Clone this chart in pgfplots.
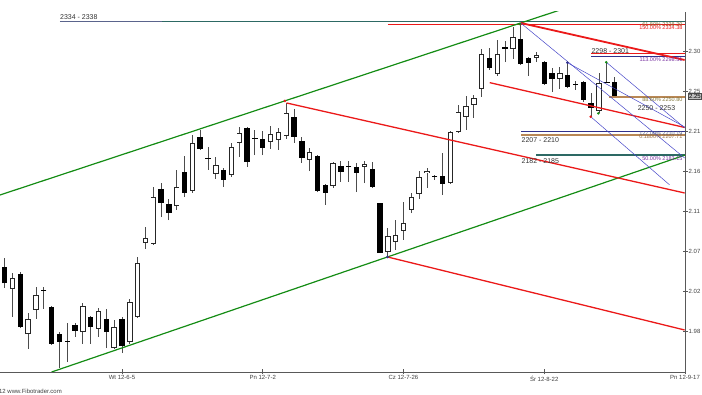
\documentclass[border=0pt]{standalone}
\usepackage{fontspec}
\setmainfont{Liberation Sans}
\usepackage{pgfplots}
\pgfplotsset{compat=1.18}
\usepackage{pgfplotstable}

\definecolor{cgreen}{RGB}{20,140,20}
\definecolor{cred}{RGB}{235,25,25}
\definecolor{cblue}{RGB}{70,70,200}
\definecolor{cteal}{RGB}{45,105,100}
\definecolor{cslate}{RGB}{90,100,140}
\definecolor{cbrown}{RGB}{185,135,85}
\definecolor{cpurple}{RGB}{120,50,160}
\definecolor{colive}{RGB}{130,120,60}

% bar index, open, high, low, close
\pgfplotstableread{
x o h l c
-1 2.0859 2.0894 2.0505 2.0539
0 2.0543 2.0642 2.0299 2.0353
2 2.0459 2.0485 1.9840 1.9853
6 2.0082 2.0093 1.9648 1.9659
7 1.9773 1.9796 1.9385 1.9682
9 1.9876 1.9899 1.9739 1.9808
11 1.9968 1.9979 1.9659 1.9853
13 1.9945 2.0059 1.9613 1.9796
15 1.9945 1.9968 1.9556 1.9636
20 2.1431 2.1499 2.1110 2.1271
21 2.1259 2.1316 2.1076 2.1156
23 2.1625 2.1808 2.1339 2.1385
25 2.2025 2.2105 2.1877 2.1888
28 2.1648 2.1671 2.1454 2.1534
31 2.2128 2.2139 2.1682 2.1739
33 2.2002 2.2094 2.1819 2.1900
37 2.2254 2.2345 2.1957 2.2025
38 2.1979 2.2025 2.1728 2.1785
40 2.1808 2.1819 2.1396 2.1408
41 2.1476 2.1488 2.1248 2.1385
43 2.1694 2.1751 2.1511 2.1625
45 2.1682 2.1728 2.1396 2.1614
47 2.1659 2.1739 2.1442 2.1454
48 2.1271 2.1271 2.0699 2.0699
56 2.1579 2.1842 2.1362 2.1488
62 2.2928 2.3042 2.2791 2.2814
64 2.3054 2.3122 2.2882 2.3031
66 2.3145 2.3328 2.2848 2.2859
67 2.2928 2.2940 2.2722 2.2871
69 2.2882 2.2894 2.2620 2.2631
70 2.2757 2.2814 2.2539 2.2688
72 2.2734 2.2871 2.2585 2.2597
74 2.2654 2.2665 2.2425 2.2448
75 2.2414 2.2528 2.2254 2.2357
78 2.2654 2.2711 2.2488 2.2494
}\blk

\pgfplotstableread{
x o h l c
1 2.0288 2.0474 1.9971 2.0413
3 1.9773 2.0013 1.9602 1.9945
4 2.0048 2.0311 1.9945 2.0219
10 1.9796 2.0128 1.9659 2.0093
12 1.9831 2.0071 1.9739 2.0036
14 1.9613 1.9934 1.9602 1.9853
16 1.9682 2.0173 1.9659 2.0139
17 1.9968 2.0654 1.9956 2.0585
18 2.0814 2.0996 2.0745 2.0871
19 2.0802 2.1454 2.0791 2.1339
22 2.1236 2.1648 2.1191 2.1454
24 2.1408 2.2048 2.1385 2.1957
27 2.1602 2.1797 2.1545 2.1705
29 2.1591 2.1957 2.1568 2.1911
30 2.1957 2.2139 2.1797 2.2071
34 2.1968 2.2151 2.1888 2.2060
35 2.1991 2.2128 2.1877 2.2082
36 2.2037 2.2414 2.2002 2.2299
39 2.1762 2.1900 2.1636 2.1854
42 2.1465 2.1739 2.1442 2.1728
46 2.1682 2.1751 2.1499 2.1716
49 2.0711 2.0985 2.0654 2.0894
50 2.0825 2.1076 2.0734 2.0905
51 2.0951 2.1282 2.0848 2.1042
52 2.1191 2.1385 2.1156 2.1339
53 2.1374 2.1636 2.1316 2.1568
54 2.1614 2.1671 2.1442 2.1636
57 2.1499 2.2094 2.1488 2.2082
58 2.2082 2.2391 2.2071 2.2311
59 2.2254 2.2494 2.2105 2.2379
60 2.2391 2.2505 2.2242 2.2471
61 2.2574 2.3031 2.2482 2.2974
63 2.2745 2.3134 2.2722 2.2974
65 2.3031 2.3282 2.2917 2.3168
68 2.2928 2.2997 2.2882 2.2962
71 2.2688 2.2825 2.2574 2.2757
76 2.2322 2.2757 2.2300 2.2642
}\wht

\pgfplotstableread{
x o h l c
5 2.0265 2.0311 2.0059 2.0270
8 1.9693 1.9899 1.9453 1.9693
26 2.1768 2.1911 2.1648 2.1779
32 2.1997 2.2105 2.1819 2.2008
44 2.1677 2.1751 2.1511 2.1688
55 2.1562 2.1591 2.1534 2.1574
73 2.2614 2.2665 2.2562 2.2625
77 2.2642 2.2882 2.2637 2.2648
}\dji

\pgfplotsset{
  candle/.style n args={2}{draw=none, mark=none, forget plot,
    error bars/.cd, y dir=plus, y explicit, error mark=none,
    error bar style={solid, line width=#1, draw=#2}},
}

\begin{document}
\begin{tikzpicture}
\path[use as bounding box] (0,0) rectangle (702pt,395pt);
\begin{axis}[
  at={(0pt,23pt)}, anchor=south west,
  scale only axis, width=685pt, height=360.3pt,
  xmin=-0.6, xmax=87, ymin=1.9339, ymax=2.3457,
  clip mode=individual,
  axis x line*=bottom, axis y line*=right,
  axis line style={draw=black!65, line width=0.8pt},
  major tick length=5pt, tick align=center,
  tick style={draw=black!65, line width=0.6pt},
  xtick={15,33,51,69,87},
  xticklabels={Wt 12-6-5, Pn 12-7-2, Cz 12-7-26, Śr 12-8-22, Pn 12-9-17},
  ytick={1.98,2.0257,2.0714,2.1171,2.1628,2.2086,2.2543,2.30},
  yticklabels={1.98,2.02,2.07,2.11,2.16,2.21,2.25,2.30},
  ticklabel style={font=\fontsize{6}{7}\selectfont, text=black!75},
  yticklabel style={anchor=west, inner sep=0pt, xshift=1pt},
  xticklabel style={inner sep=1pt},
]
% wicks
\addplot[candle={0.9pt}{black!70}] table[x=x, y=l, y error plus expr=\thisrow{h}-\thisrow{l}] {\blk};
\addplot[candle={0.9pt}{black!70}] table[x=x, y=l, y error plus expr=\thisrow{h}-\thisrow{l}] {\wht};
\addplot[candle={0.9pt}{black!70}] table[x=x, y=l, y error plus expr=\thisrow{h}-\thisrow{l}] {\dji};
% bodies
\addplot[candle={5.4pt}{black}] table[x=x, y=c, y error plus expr=\thisrow{o}-\thisrow{c}] {\blk};
\addplot[candle={5.4pt}{black!85}] table[x=x, y=o, y error plus expr=\thisrow{c}-\thisrow{o}] {\wht};
\addplot[candle={3.6pt}{white}] table[x=x, y expr=\thisrow{o}+0.0009, y error plus expr=\thisrow{c}-\thisrow{o}-0.0018] {\wht};
\addplot[only marks, mark=-, mark size=2.7pt, mark options={line width=0.9pt, draw=black}, forget plot] table[x=x, y=c] {\dji};

% horizontal Fibonacci levels
\addplot[cslate, line width=0.9pt] coordinates {(7.07,2.3343) (20.1,2.3343)};
\addplot[cteal, line width=0.9pt] coordinates {(20.1,2.3343) (86.95,2.3343)};
\addplot[cred, line width=0.7pt] coordinates {(49.0,2.3317) (86.95,2.3317)};
\addplot[cred, line width=0.6pt] coordinates {(75.03,2.2982) (86.95,2.2982)};
\addplot[cblue!70!black, line width=0.8pt] coordinates {(75.03,2.2951) (86.95,2.2951)};
\addplot[cbrown, line width=1.8pt] coordinates {(77.24,2.2486) (86.95,2.2486)};
\addplot[cblue!70!black, line width=0.7pt] coordinates {(66.08,2.2086) (86.95,2.2086)};
\addplot[cbrown, line width=1.6pt] coordinates {(66.08,2.2048) (86.95,2.2048)};
\addplot[cteal, line width=1.8pt] coordinates {(68.0,2.1823) (86.95,2.1823)};

% channels
\addplot[cgreen, line width=1.2pt] coordinates {(-0.6,2.1362) (70.97,2.3475)};
\addplot[cgreen, line width=1.2pt] coordinates {(6.007,1.9339) (86.95,2.1817)};
\addplot[cred, line width=1.3pt] coordinates {(36.04,2.2414) (86.95,2.1385)};
\addplot[cred, line width=1.8pt] coordinates {(65.99,2.3328) (86.95,2.2905)};
\addplot[cred, line width=1.3pt] coordinates {(62.03,2.2646) (86.95,2.2134)};
\addplot[cred, line width=1.3pt] coordinates {(48.95,2.0654) (86.95,1.9819)};
% thin blue lines
\addplot[cblue, line width=0.5pt] coordinates {(65.99,2.3328) (86.95,2.1785)};
\addplot[cblue, line width=0.5pt] coordinates {(71.96,2.2874) (86.95,2.2140)};
\addplot[cblue, line width=0.5pt] coordinates {(76.94,2.2879) (86.95,2.2130)};
\addplot[cblue, line width=0.5pt] coordinates {(74.94,2.2257) (85.0,2.1480)};
% dots
\addplot[only marks, mark=*, mark size=1.1pt, cblue!70!black] coordinates {(48.95,2.0654) (71.96,2.2874)};
\addplot[only marks, mark=*, mark size=1.1pt, cred] coordinates {(74.94,2.2257) (35.83,2.2437)};
\addplot[only marks, mark=*, mark size=1.1pt, cgreen] coordinates {(75.92,2.2296) (76.94,2.2879) (65.86,2.3317)};

% level texts
\begin{scope}[every node/.style={font=\fontsize{7}{8}\selectfont, text=black!80, inner sep=0pt}]
\node[anchor=west] at (axis cs:7.07,2.3397) {2334 - 2338};
\node[anchor=west] at (axis cs:75.03,2.3012) {2298 - 2301};
\node[anchor=west] at (axis cs:80.94,2.2360) {2250 - 2253};
\node[anchor=west] at (axis cs:66.08,2.1991) {2207 - 2210};
\node[anchor=west] at (axis cs:66.08,2.1751) {2182 - 2185};
\end{scope}
\begin{scope}[every node/.style={font=\fontsize{5.5}{6}\selectfont, inner sep=0pt, anchor=east}]
\node[text=colive] at (axis cs:86.69,2.3305) {61.80\% 2338.39};
\node[text=cred] at (axis cs:86.69,2.3274) {150.00\% 2334.38};
\node[text=cpurple] at (axis cs:86.69,2.2905) {113.00\% 2298.51};
\node[text=colive] at (axis cs:86.69,2.2454) {88.60\% 2250.80};
\node[text=cslate] at (axis cs:86.69,2.2067) {127.00\% 2210.19};
\node[text=cbrown!80!black] at (axis cs:86.69,2.2025) {0.1800\% 2207.71};
\node[text=cpurple] at (axis cs:86.69,2.1774) {50.00\% 2183.15};
\end{scope}
% last price box
\node[anchor=west, fill=black!25, draw=black!70, line width=0.5pt, inner sep=0.8pt, xshift=3pt,
  font=\fontsize{6}{7}\selectfont] at (axis cs:87,2.2494) {2.25};
% cut-off first date label
\node[anchor=north, font=\fontsize{6}{7}\selectfont, text=black!75, inner sep=1pt, yshift=-2.5pt] at (axis cs:-3,1.9339) {Cz 12-5-10};
\end{axis}
\node[anchor=east, font=\fontsize{6}{7}\selectfont, text=black!75, inner sep=0pt] at (62pt,3.3pt) {© 2012 www.Fibotrader.com};
\end{tikzpicture}
\end{document}
